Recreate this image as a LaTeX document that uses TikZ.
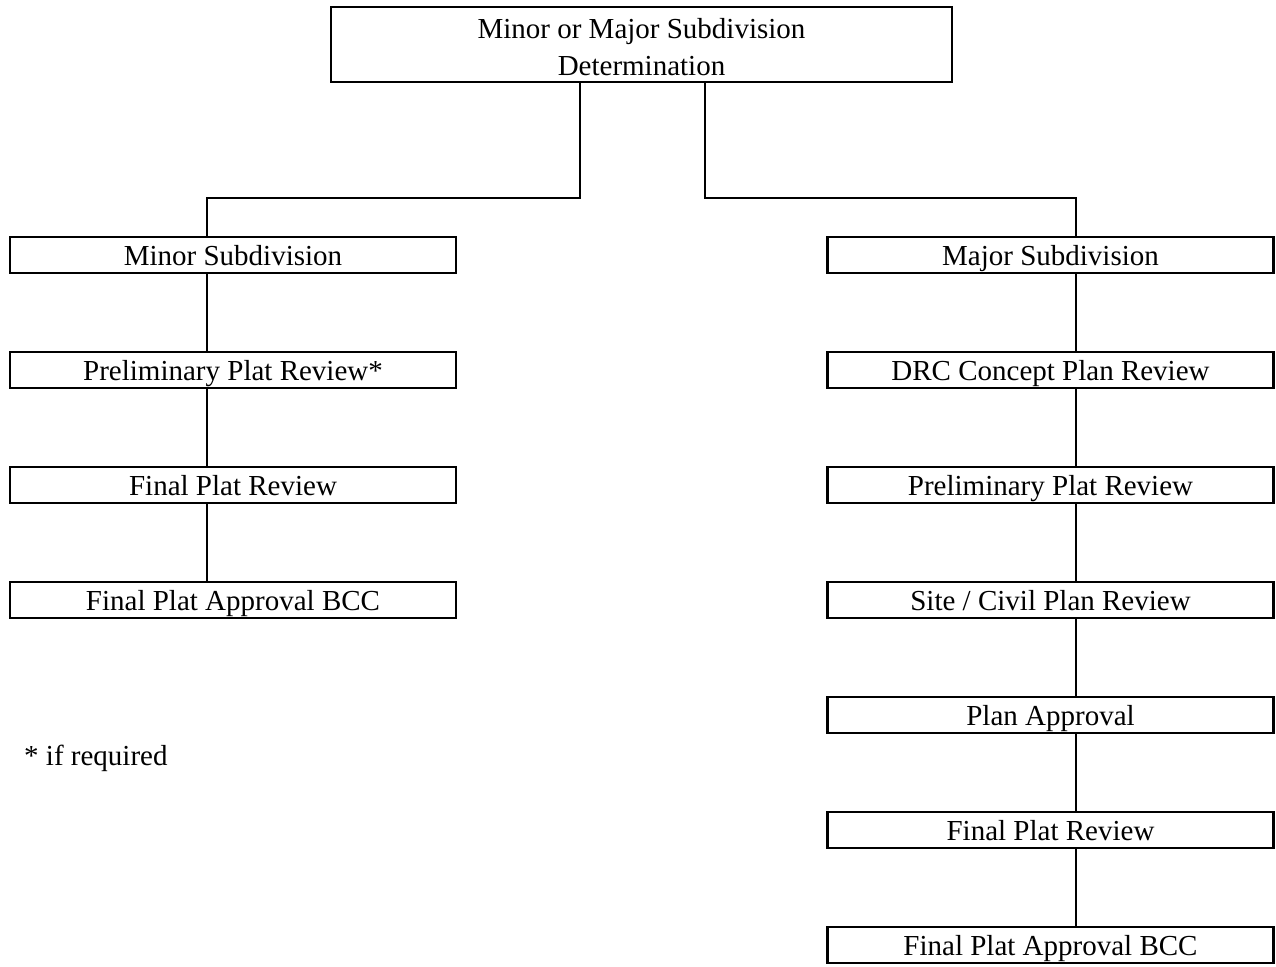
\documentclass[tikz,border=0pt]{standalone}
\usepackage{fontspec}
\setmainfont{Liberation Serif}
\begin{document}
\begin{tikzpicture}[x=1pt,y=-1pt,
  lbl/.style={font=\fontsize{29}{37}\selectfont},
  box/.style={draw,line width=2.2pt,minimum width=446pt,minimum height=36pt,inner sep=0pt,
    text height=27pt,text depth=6pt,lbl,anchor=center},
  link/.style={line width=2.2pt}]
\useasboundingbox (0,0) rectangle (1276,966);
\node[draw,line width=2.2pt,minimum width=621pt,minimum height=75pt,inner sep=0pt] (top) at (641.5,44.5) {};
\node[lbl,align=center,inner sep=0pt] (toptext) at ([yshift=-3pt]top.center) {Minor or Major Subdivision\\Determination};
\node[box] (l1) at (233,255) {Minor Subdivision};
\node[box] (l2) at (233,370) {Preliminary Plat Review*};
\node[box] (l3) at (233,485) {Final Plat Review};
\node[box] (l4) at (233,600) {Final Plat Approval BCC};
\node[box] (r1) at (1050.5,255) {Major Subdivision};
\node[box] (r2) at (1050.5,370) {DRC Concept Plan Review};
\node[box] (r3) at (1050.5,485) {Preliminary Plat Review};
\node[box] (r4) at (1050.5,600) {Site / Civil Plan Review};
\node[box] (r5) at (1050.5,715) {Plan Approval};
\node[box] (r6) at (1050.5,830) {Final Plat Review};
\node[box] (r7) at (1050.5,945) {Final Plat Approval BCC};
\node[lbl,anchor=base west,inner sep=0pt] (note) at (24,765) {* if required};
\draw[link] ([xshift=-61.5pt]top.south) -- ++(0,115) -| ([xshift=-26pt]l1.north);
\draw[link] ([xshift=63.5pt]top.south) -- ++(0,115) -| ([xshift=25.5pt]r1.north);
\foreach \a/\b in {l1/l2,l2/l3,l3/l4}
  \draw[link] ([xshift=-26pt]\a.south) -- ([xshift=-26pt]\b.north);
\foreach \a/\b in {r1/r2,r2/r3,r3/r4,r4/r5,r5/r6,r6/r7}
  \draw[link] ([xshift=25.5pt]\a.south) -- ([xshift=25.5pt]\b.north);
\end{tikzpicture}
\end{document}
